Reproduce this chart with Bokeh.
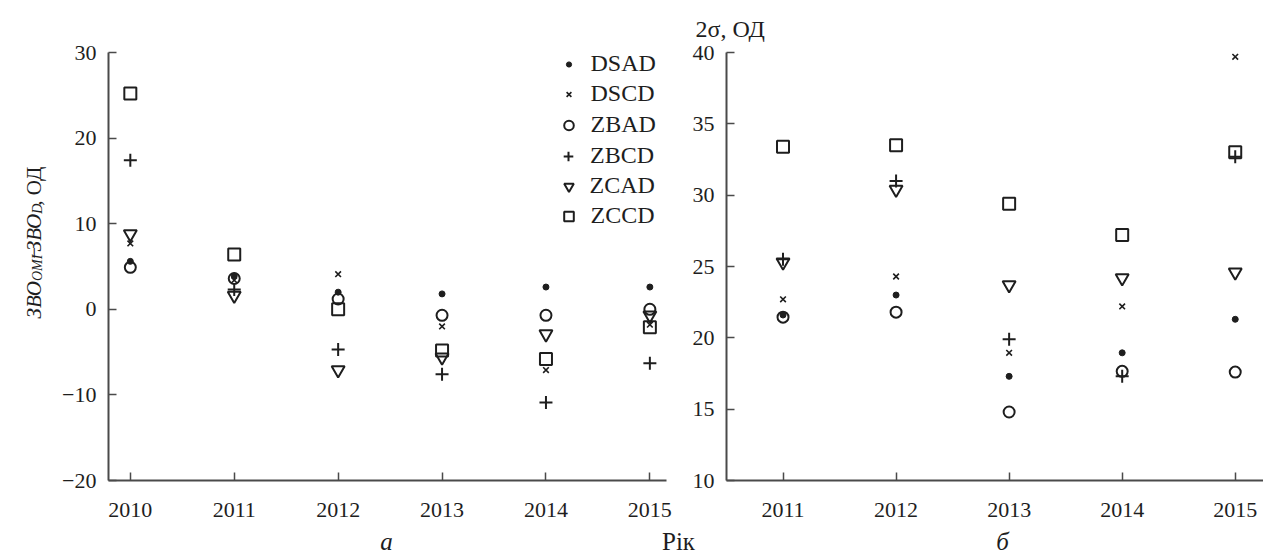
import math
from bokeh.plotting import figure
from bokeh.models import (Range1d, FixedTicker, Legend, LegendItem, Label,
                          ColumnDataSource, Title)
from bokeh.layouts import row, column
from bokeh.embed import file_html
from bokeh.resources import INLINE

# ---- data -----------------------------------------------------------------
series_names = ["DSAD", "DSCD", "ZBAD", "ZBCD", "ZCAD", "ZCCD"]

years_a = [2010, 2011, 2012, 2013, 2014, 2015]
dsad_a = [5.6, 3.9, 2.0, 1.8, 2.6, 2.6]
dscd_a = [7.7, 3.4, 4.1, -2.0, -7.1, -1.8]
zbad_a = [4.9, 3.6, 1.2, -0.7, -0.7, 0.0]
zbcd_a = [17.4, 2.3, -4.7, -7.6, -10.9, -6.3]
zcad_a = [8.8, 1.6, -7.1, -5.6, -2.9, -0.7]
zccd_a = [25.2, 6.4, 0.0, -4.8, -5.8, -2.1]

years_b = [2011, 2012, 2013, 2014, 2015]
dsad_b = [21.6, 23.0, 17.3, 18.95, 21.3]
dscd_b = [22.7, 24.3, 18.95, 22.2, 39.7]
zbad_b = [21.45, 21.8, 14.8, 17.65, 17.6]
zbcd_b = [25.5, 31.0, 19.9, 17.3, 32.7]
zcad_b = [25.3, 30.4, 23.7, 24.2, 24.6]
zccd_b = [33.4, 33.5, 29.4, 27.2, 33.0]

yticks_a = [-20, -10, 0, 10, 20, 30]
yticks_b = [10, 15, 20, 25, 30, 35, 40]

# ---- styling ----------------------------------------------------------------
SERIF = "Liberation Serif"
INK = "#1e1e1e"
AXIS = "#4a4a4a"
TICK_FS = "22px"
PANEL_H = 528
FRAME_T, FRAME_B = 52, 480
TITLE_W = 50          # strip holding the rotated y title of panel a

markers = {
    "DSAD": dict(marker="circle", size=6, fill_color=INK, line_color=INK, line_width=1),
    "DSCD": dict(marker="x", size=8, fill_color=None, line_color=INK, line_width=1.6),
    "ZBAD": dict(marker="circle", size=11, fill_color=None, line_color=INK, line_width=2),
    "ZBCD": dict(marker="cross", size=13, fill_color=None, line_color=INK, line_width=2),
    "ZCAD": dict(marker="inverted_triangle", size=13, fill_color=None, line_color=INK, line_width=2),
    "ZCCD": dict(marker="square", size=12, fill_color=None, line_color=INK, line_width=2),
}
legend_glyph_w = {"DSAD": 13, "DSCD": 17, "ZBAD": 25, "ZBCD": 26, "ZCAD": 27, "ZCCD": 25}


def style_axes(p):
    for ax in (p.xaxis[0], p.yaxis[0]):
        ax.axis_line_color = AXIS
        ax.axis_line_width = 2
        ax.major_tick_line_color = AXIS
        ax.major_tick_line_width = 1.5
        ax.major_tick_in = 8
        ax.major_tick_out = 0
        ax.minor_tick_line_color = None
        ax.major_label_text_font = SERIF
        ax.major_label_text_font_size = TICK_FS
        ax.major_label_text_color = INK
    p.xaxis[0].major_label_standoff = 22
    p.yaxis[0].major_label_standoff = 12
    p.xgrid.visible = False
    p.ygrid.visible = False
    p.outline_line_color = None


def make_panel(xs, ys_by_series, x_range, y_range, yticks, width, border_left, border_right):
    p = figure(width=width, height=PANEL_H, x_range=x_range, y_range=y_range,
               output_backend="svg", toolbar_location=None,
               min_border_left=border_left, min_border_right=border_right,
               min_border_top=FRAME_T, min_border_bottom=PANEL_H - FRAME_B)
    renderers = {}
    for name in series_names:
        src = ColumnDataSource(dict(x=xs, y=ys_by_series[name]))
        renderers[name] = p.scatter("x", "y", source=src, **markers[name])
    p.xaxis[0].ticker = FixedTicker(ticks=list(xs))
    p.yaxis[0].ticker = FixedTicker(ticks=yticks)
    style_axes(p)
    return p, renderers


def text_strip(width, height):
    """Blank figure whose data coordinates equal its pixels (y measured upward)."""
    s = figure(width=width, height=height, x_range=Range1d(0, width),
               y_range=Range1d(0, height), output_backend="svg",
               toolbar_location=None, min_border=0,
               x_axis_type=None, y_axis_type=None)
    s.outline_line_color = None
    s.xgrid.visible = False
    s.ygrid.visible = False
    return s


# ---- rotated y title of panel a -------------------------------------------
# Text reads bottom-to-top; the anchor rows below are counted from the top.
pl = text_strip(TITLE_W, PANEL_H)
MAIN_FS, SUB_FS = 21, 14
BASE_X, SUB_SHIFT = 33, 4
b1 = 282                     # end of the first italic word
minus_c = 247                # centre of the minus sign
b2 = 199                     # end of the second italic word
d_len = 10                   # length of the "D" subscript
title_pieces = [
    # text, style, size, is_subscript, anchor row, align
    ("\u0417\u0412\u041e", "italic", MAIN_FS, False, b1, "right"),
    ("OMI", "italic", SUB_FS, True, b1, "left"),
    ("\u2212", "normal", MAIN_FS, False, minus_c, "center"),
    ("\u0417\u0412\u041e", "italic", MAIN_FS, False, b2, "right"),
    ("D", "italic", SUB_FS, True, b2, "left"),
    (", \u041e\u0414", "normal", MAIN_FS, False, b2 - d_len, "left"),
]
for txt, style, fs, sub, pos, align in title_pieces:
    pl.add_layout(Label(x=BASE_X + (SUB_SHIFT if sub else 0), y=PANEL_H - pos,
                        text=txt, angle=math.pi / 2, text_align=align,
                        text_baseline="alphabetic", text_font=SERIF,
                        text_font_style=style, text_font_size=f"{fs}px",
                        text_color=INK))

# ---- panel a ----------------------------------------------------------------
pa, rend_a = make_panel(
    years_a,
    dict(DSAD=dsad_a, DSCD=dscd_a, ZBAD=zbad_a, ZBCD=zbcd_a, ZCAD=zcad_a, ZCCD=zccd_a),
    Range1d(2009.79, 2015.16), Range1d(-20, 30), yticks_a,
    width=680 - TITLE_W, border_left=108 - TITLE_W, border_right=14)
pa.yaxis[0].major_label_overrides = {-20: "\u221220", -10: "\u221210"}
A_L = 108

# legend: one entry per block so each marker keeps its own size
legend_x_center, legend_text_x = 568, 590
row_y = [65, 95, 126, 157, 187, 217]
for name, yc in zip(series_names, row_y):
    w = legend_glyph_w[name]
    lg = Legend(items=[LegendItem(label=name, renderers=[rend_a[name]])],
                location=(legend_x_center - A_L - w / 2, FRAME_B - (yc + 12)),
                glyph_width=w, glyph_height=24, label_height=24,
                label_standoff=int(round(legend_text_x - (legend_x_center + w / 2))),
                padding=0, margin=0, spacing=0,
                background_fill_alpha=0, border_line_alpha=0,
                label_text_font=SERIF, label_text_font_size="24px",
                label_text_color=INK, label_text_baseline="middle")
    pa.add_layout(lg, "center")

# ---- panel b ----------------------------------------------------------------
pb, rend_b = make_panel(
    years_b,
    dict(DSAD=dsad_b, DSCD=dscd_b, ZBAD=zbad_b, ZBCD=zbcd_b, ZCAD=zcad_b, ZCCD=zccd_b),
    Range1d(2010.5, 2015.25), Range1d(10, 40), yticks_b,
    width=583, border_left=46, border_right=0)
pb.add_layout(Title(text="2\u03c3, \u041e\u0414", align="left", offset=-31,
                    standoff=21, text_font=SERIF, text_font_style="normal",
                    text_font_size="24px", text_color=INK), "above")

# ---- captions row -----------------------------------------------------------
CAP_H = 554 - PANEL_H
pc = text_strip(1263, CAP_H)
for txt, xc, style in [("\u0430", 386, "italic"), ("\u0420\u0456\u043a", 678, "normal"),
                       ("\u0431", 1002, "italic")]:
    pc.add_layout(Label(x=xc, y=554 - 541, text=txt, text_align="center",
                        text_baseline="middle", text_font=SERIF,
                        text_font_style=style, text_font_size="25px",
                        text_color=INK))

layout = column(row(pl, pa, pb, spacing=0), pc, spacing=0)
open("out.html", "w").write(file_html(layout, INLINE))
